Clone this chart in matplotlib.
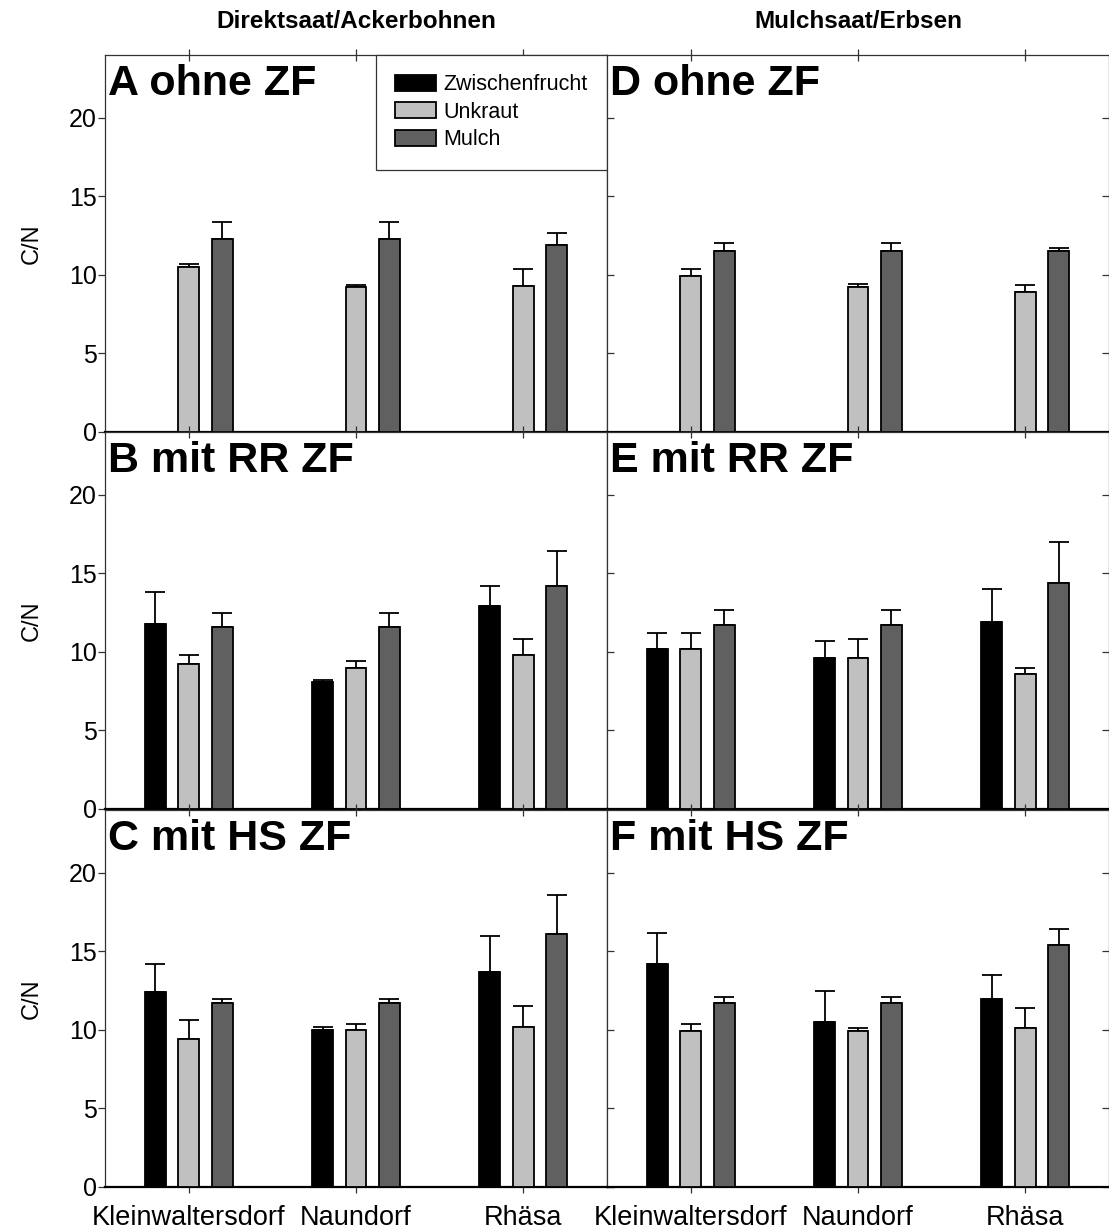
import numpy as np
import matplotlib
matplotlib.use("Agg")
import matplotlib.pyplot as plt
from matplotlib.patches import Patch

plt.rcParams['font.family'] = ['Liberation Sans', 'DejaVu Sans']

sites = ["Kleinwaltersdorf", "Naundorf", "Rhäsa"]
series = ["Zwischenfrucht", "Unkraut", "Mulch"]
colors = ["#000000", "#c0c0c0", "#606060"]
panel_titles = ["A ohne ZF", "D ohne ZF", "B mit RR ZF", "E mit RR ZF", "C mit HS ZF", "F mit HS ZF"]
col_titles = ["Direktsaat/Ackerbohnen", "Mulchsaat/Erbsen"]

# mean C/N per panel: rows = Zwischenfrucht, Unkraut, Mulch; cols = sites
A_mean = [[np.nan, np.nan, np.nan], [10.5, 9.2, 9.3], [12.3, 12.3, 11.9]]
A_err = [[0, 0, 0], [0.2, 0.15, 1.1], [1.1, 1.1, 0.8]]
D_mean = [[np.nan, np.nan, np.nan], [9.9, 9.2, 8.9], [11.5, 11.5, 11.5]]
D_err = [[0, 0, 0], [0.45, 0.25, 0.45], [0.55, 0.55, 0.2]]
B_mean = [[11.8, 8.1, 12.9], [9.2, 9.0, 9.8], [11.6, 11.6, 14.2]]
B_err = [[2.0, 0.1, 1.3], [0.6, 0.4, 1.0], [0.9, 0.9, 2.2]]
E_mean = [[10.2, 9.6, 11.9], [10.2, 9.6, 8.6], [11.7, 11.7, 14.4]]
E_err = [[1.0, 1.1, 2.1], [1.0, 1.2, 0.4], [1.0, 1.0, 2.6]]
C_mean = [[12.4, 10.0, 13.7], [9.4, 10.0, 10.2], [11.7, 11.7, 16.1]]
C_err = [[1.8, 0.2, 2.3], [1.2, 0.4, 1.3], [0.3, 0.3, 2.5]]
F_mean = [[14.2, 10.5, 12.0], [9.9, 9.9, 10.1], [11.7, 11.7, 15.4]]
F_err = [[2.0, 2.0, 1.5], [0.5, 0.25, 1.3], [0.4, 0.4, 1.0]]

panels = [(A_mean, A_err), (D_mean, D_err), (B_mean, B_err),
          (E_mean, E_err), (C_mean, C_err), (F_mean, F_err)]

fig = plt.figure(figsize=(11.09, 12.31), dpi=100)
W, H = 1109, 1231
left0, pw, ph = 105, 502, 377
tops = [55, 432, 810]

x = np.arange(len(sites))
width = 0.125
offsets = [-0.2, 0.0, 0.2]

for i, (means, errs) in enumerate(panels):
    r, c = divmod(i, 2)
    ax = fig.add_axes([(left0 + c * pw) / W, 1 - (tops[r] + ph) / H, pw / W, ph / H])
    for k in range(3):
        m = np.array(means[k], dtype=float)
        e = np.array(errs[k], dtype=float)
        ok = ~np.isnan(m)
        if not ok.any():
            continue
        ax.bar(x[ok] + offsets[k], m[ok], width, color=colors[k], edgecolor="black",
               linewidth=1.3, zorder=3)
        ax.errorbar(x[ok] + offsets[k], m[ok], yerr=[np.zeros(ok.sum()), e[ok]], fmt="none",
                    ecolor="black", elinewidth=1.3, capsize=7, capthick=1.3, zorder=2)
    ax.set_xlim(-0.5, 2.5)
    ax.set_ylim(0, 24)
    ax.set_yticks([0, 5, 10, 15, 20])
    ax.set_xticks(x)
    for s in ["top", "left", "right"]:
        ax.spines[s].set_color("#333333")
        ax.spines[s].set_linewidth(0.9)
    ax.spines["bottom"].set_color("black")
    ax.spines["bottom"].set_linewidth(1.6)
    ax.tick_params(axis="x", which="both", top=True, bottom=True, direction="inout",
                   length=8, width=0.9, color="#333333")
    ax.tick_params(axis="y", left=True, right=True, direction="out" if c == 0 else "in",
                   length=5, width=0.9, color="#333333", labelsize=18, pad=1)
    if c == 0:
        ax.set_ylabel("C/N", fontsize=17)
        ax.yaxis.set_label_coords(-0.124, 0.5)
    else:
        ax.set_yticklabels([])
    if r == 2:
        ax.set_xticklabels(sites, fontsize=19.5)
        ax.tick_params(axis="x", pad=9)
    else:
        ax.set_xticklabels([])
    ax.text(0.005, 0.975, panel_titles[i], transform=ax.transAxes, fontsize=31,
            fontweight="bold", va="top", ha="left")
    if r == 0:
        ax.text(0.5, 1.09, col_titles[c], transform=ax.transAxes, fontsize=17.5,
                fontweight="bold", ha="center", va="center")
    if i == 0:
        handles = [Patch(facecolor=colors[k], edgecolor="black", linewidth=1.3)
                   for k in range(3)]
        leg = ax.legend(handles, series, loc="upper right", bbox_to_anchor=(1.0, 1.0),
                        borderaxespad=0, fontsize=15.5, frameon=True, fancybox=False,
                        handlelength=1.9, handleheight=0.75, labelspacing=0.3,
                        handletextpad=0.35, borderpad=0.9, edgecolor="#333333",
                        framealpha=1)
        leg.get_frame().set_linewidth(0.9)
        leg.set_zorder(5)

fig.savefig("out.png", dpi=100)
